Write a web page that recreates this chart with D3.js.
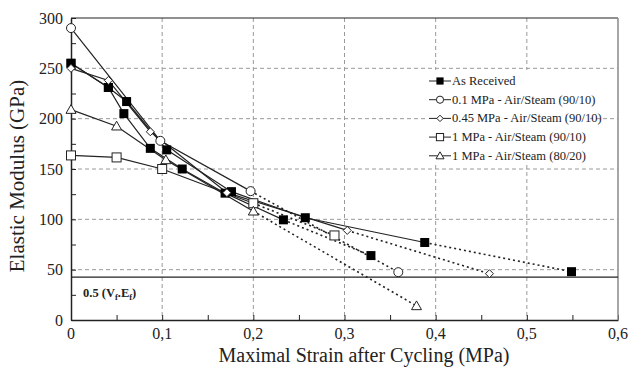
<!DOCTYPE html>
<html><head><meta charset="utf-8">
<script src="https://cdn.jsdelivr.net/npm/d3@7/dist/d3.min.js"></script>
<style>
html,body{margin:0;padding:0;background:#fff;}
svg{display:block;font-family:"Liberation Serif","Times New Roman",serif;}
</style></head>
<body>
<svg id="chart" width="629" height="371"></svg>
<script>
// ---- data ----
const xTickValues = [0, 0.1, 0.2, 0.3, 0.4, 0.5, 0.6];
const xTickLabels = ["0", "0,1", "0,2", "0,3", "0,4", "0,5", "0,6"];
const yTickValues = [0, 50, 100, 150, 200, 250, 300];
const yTickLabels = ["0", "50", "100", "150", "200", "250", "300"];
const referenceLevel = 42.5; // 0.5 (Vf.Ef)

const asReceivedA    = [[0,255],[0.041,231],[0.061,217],[0.105,169],[0.176,127.5],[0.257,101.6],[0.388,77]];
const asReceivedAExt = [[0.388,77],[0.549,48]];
const asReceivedB    = [[0,255],[0.041,231],[0.058,205],[0.087,170.5],[0.122,150],[0.169,126],[0.233,99.5]];
const asReceivedBExt = [[0.233,99.5],[0.329,64]];
const mpa01          = [[0,290],[0.098,178],[0.197,128]];
const mpa01Ext       = [[0.197,128],[0.359,47.5]];
const mpa045         = [[0,250],[0.041,238],[0.087,187],[0.171,126.5],[0.303,89]];
const mpa045Ext      = [[0.303,89],[0.459,46]];
const mpa1_9010      = [[0,163.5],[0.05,161.5],[0.1,150],[0.2,116]];
const mpa1_9010Ext   = [[0.2,116],[0.289,84]];
const mpa1_8020      = [[0,209],[0.05,192.5],[0.104,159],[0.2,108]];
const mpa1_8020Ext   = [[0.2,108],[0.379,14]];

const legendLabels = ["As Received","0.1 MPa - Air/Steam (90/10)","0.45 MPa - Air/Steam (90/10)","1 MPa - Air/Steam (90/10)","1 MPa - Air/Steam (80/20)"];
const legendMarkers = ["fsquare","circle","diamond","square","triangle"];

const series = [
  {pts: asReceivedA, ext: asReceivedAExt, marker: "fsquare"},
  {pts: asReceivedB, ext: asReceivedBExt, marker: "fsquare"},
  {pts: mpa01, ext: mpa01Ext, marker: "circle"},
  {pts: mpa045, ext: mpa045Ext, marker: "diamond"},
  {pts: mpa1_9010, ext: mpa1_9010Ext, marker: "square"},
  {pts: mpa1_8020, ext: mpa1_8020Ext, marker: "triangle"}
];

// ---- layout ----
const svg = d3.select("#chart");
const L = 71, R = 618, T = 18, B = 320;
const x = d3.scaleLinear().domain([0, 0.6]).range([L, R]);
const y = d3.scaleLinear().domain([0, 300]).range([B, T]);
const ink = "#222";

// grid
const grid = svg.append("g").attr("stroke", "#9a9a9a").attr("stroke-width", 1).attr("stroke-dasharray", "4,3");
xTickValues.filter(v => v > 0 && v < 0.6).forEach(v =>
  grid.append("line").attr("x1", x(v)).attr("x2", x(v)).attr("y1", T).attr("y2", B));
yTickValues.filter(v => v > 0 && v < 300).forEach(v =>
  grid.append("line").attr("x1", L).attr("x2", R).attr("y1", y(v)).attr("y2", y(v)));

// axes with inward ticks
const xAxis = d3.axisBottom(x).tickValues(d3.range(0, 0.601, 0.05)).tickSizeInner(-5).tickSizeOuter(0).tickFormat("");
const gx = svg.append("g").attr("transform", `translate(0,${B})`).call(xAxis);
const yAxis = d3.axisLeft(y).tickValues(d3.range(0, 301, 25)).tickSizeInner(-5).tickSizeOuter(0).tickFormat("");
const gy = svg.append("g").attr("transform", `translate(${L},0)`).call(yAxis);
[gx, gy].forEach(g => { g.selectAll("path").attr("stroke", ink).attr("stroke-width", 1.5); g.selectAll("line").attr("stroke", ink); });

// frame top/right
svg.append("line").attr("x1", L).attr("x2", R).attr("y1", T).attr("y2", T).attr("stroke", ink).attr("stroke-width", 1.2);
svg.append("line").attr("x1", R).attr("x2", R).attr("y1", T).attr("y2", B).attr("stroke", "#8a8a8a").attr("stroke-width", 1.5);

// tick labels
svg.append("g").selectAll("text").data(xTickValues).join("text")
  .attr("x", d => x(d)).attr("y", 339).attr("text-anchor", "middle")
  .attr("font-size", 16).attr("fill", ink).text((d, i) => xTickLabels[i]);
svg.append("g").selectAll("text").data(yTickValues).join("text")
  .attr("x", 63).attr("y", d => y(d) + 5.5).attr("text-anchor", "end")
  .attr("font-size", 16).attr("fill", ink).text((d, i) => yTickLabels[i]);

// axis titles
svg.append("text").attr("x", 364).attr("y", 362).attr("text-anchor", "middle")
  .attr("font-size", 20).attr("fill", ink).text("Maximal Strain after Cycling (MPa)");
svg.append("text").attr("transform", "translate(24,176) rotate(-90)").attr("text-anchor", "middle")
  .attr("font-size", 21).attr("fill", ink).text("Elastic Modulus (GPa)");

// reference line
svg.append("line").attr("x1", L).attr("x2", R).attr("y1", y(referenceLevel)).attr("y2", y(referenceLevel))
  .attr("stroke", ink).attr("stroke-width", 1.2);
const ref = svg.append("text").attr("x", 83).attr("y", 297).attr("font-size", 12.5).attr("font-weight", "bold").attr("fill", ink);
ref.append("tspan").text("0.5 (V");
ref.append("tspan").attr("font-size", 8.5).attr("dy", 3).text("f");
ref.append("tspan").attr("dy", -3).text(".E");
ref.append("tspan").attr("font-size", 8.5).attr("dy", 3).text("f");
ref.append("tspan").attr("dy", -3).text(")");

// lines
const line = d3.line().x(d => x(d[0])).y(d => y(d[1]));
const plot = svg.append("g");
series.forEach(s => {
  plot.append("path").attr("d", line(s.ext)).attr("fill", "none").attr("stroke", ink)
    .attr("stroke-width", 1.6).attr("stroke-dasharray", "2,3");
  plot.append("path").attr("d", line(s.pts)).attr("fill", "none").attr("stroke", ink).attr("stroke-width", 1.2);
});

function drawMarker(g, type, cx, cy, scale) {
  const k = scale || 1;
  if (type === "fsquare") {
    g.append("rect").attr("x", cx - 4.5*k).attr("y", cy - 4.5*k).attr("width", 9*k).attr("height", 9*k).attr("fill", "#000");
  } else if (type === "circle") {
    g.append("circle").attr("cx", cx).attr("cy", cy).attr("r", 4.5*k).attr("fill", "#fff").attr("stroke", ink).attr("stroke-width", 1);
  } else if (type === "diamond") {
    const r = 4*k;
    g.append("path").attr("d", `M${cx},${cy-r}L${cx+r},${cy}L${cx},${cy+r}L${cx-r},${cy}Z`).attr("fill", "#fff").attr("stroke", ink).attr("stroke-width", 1);
  } else if (type === "square") {
    g.append("rect").attr("x", cx - 4.5*k).attr("y", cy - 4.5*k).attr("width", 9*k).attr("height", 9*k).attr("fill", "#fff").attr("stroke", ink).attr("stroke-width", 1);
  } else if (type === "triangle") {
    const r = 5*k;
    g.append("path").attr("d", `M${cx},${cy-r}L${cx+r},${cy+r*0.75}L${cx-r},${cy+r*0.75}Z`).attr("fill", "#fff").attr("stroke", ink).attr("stroke-width", 1);
  }
}
const marks = svg.append("g");
series.forEach(s => {
  const all = s.pts.concat(s.ext.slice(1));
  all.forEach(p => drawMarker(marks, s.marker, x(p[0]), y(p[1]), 1));
});

// legend
const lg = svg.append("g");
lg.append("rect").attr("x", 426).attr("y", 70).attr("width", 164).attr("height", 94).attr("fill", "#fff");
legendLabels.forEach((t, i) => {
  const cy = 81 + i * 18.7;
  lg.append("line").attr("x1", 429).attr("x2", 451).attr("y1", cy).attr("y2", cy).attr("stroke", ink).attr("stroke-width", 1);
  drawMarker(lg, legendMarkers[i], 440, cy, 0.8);
  lg.append("text").attr("x", 452).attr("y", cy + 4).attr("font-size", 12.5).attr("fill", ink).text(t);
});
</script>
</body></html>
